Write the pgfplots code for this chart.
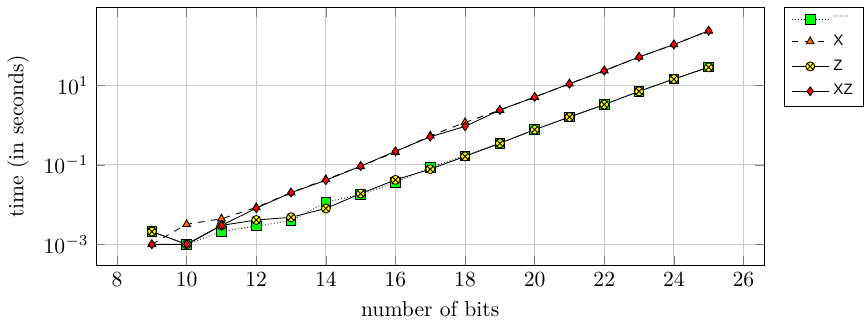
\documentclass[border=0pt]{standalone}
\usepackage{fontspec}
\usepackage{pgfplots}
\pgfplotsset{compat=1.18}
\newfontfamily\legendfont{Liberation Sans}
\begin{document}
\begin{tikzpicture}
\begin{axis}[
  scale only axis,
  width=309pt, height=119pt,
  ymode=log,
  xmin=7.4, xmax=26.6,
  ymin=3e-4, ymax=9e2,
  xtick={8,10,...,26},
  ytick={1e-3,1e-1,1e1},
  grid=major,
  major grid style={gray!40},
  xlabel={number of bits},
  ylabel={time (in seconds)},
  legend style={at={(1.03,1.005)}, anchor=north west,
    font=\legendfont\fontsize{7}{8}\selectfont,
    draw=black, row sep=1.2pt},
  legend cell align=left,
]
% no transformation
\addplot[densely dotted, mark=square*, mark size=2.2pt,
  mark options={solid, fill=green, draw=black}]
  coordinates {(9,0.0021) (10,0.001) (11,0.0021) (12,0.0029) (13,0.0039)
    (14,0.0115) (15,0.018) (16,0.036) (17,0.087) (18,0.17) (19,0.35)
    (20,0.77) (21,1.6) (22,3.3) (23,7.1) (24,14.5) (25,29)};
\addlegendentry{\textcolor{gray!60}{---}}
% X transformation
\addplot[dashed, mark=triangle*, mark size=2.1pt,
  mark options={solid, fill=orange!80!red, draw=black}]
  coordinates {(9,0.001) (10,0.0032) (11,0.0044) (12,0.0085) (13,0.02)
    (14,0.043) (15,0.092) (16,0.21) (17,0.54) (18,1.17) (19,2.4)
    (20,5.1) (21,11) (22,23.5) (23,52) (24,107) (25,237)};
\addlegendentry{X}
% Z transformation
\addplot[solid, mark=otimes*, mark size=2.1pt,
  mark options={fill=yellow, draw=black}]
  coordinates {(9,0.0021) (10,0.001) (11,0.003) (12,0.0041) (13,0.0048)
    (14,0.008) (15,0.019) (16,0.042) (17,0.078) (18,0.164) (19,0.35)
    (20,0.77) (21,1.6) (22,3.3) (23,7.1) (24,14.5) (25,28.5)};
\addlegendentry{Z}
% XZ transformation
\addplot[solid, mark=diamond*, mark size=2pt,
  mark options={fill=red, draw=black}]
  coordinates {(9,0.001) (10,0.001) (11,0.003) (12,0.0081) (13,0.02)
    (14,0.041) (15,0.093) (16,0.22) (17,0.51) (18,0.93) (19,2.4)
    (20,5.1) (21,11) (22,23.5) (23,52) (24,107) (25,237)};
\addlegendentry{XZ}
\end{axis}
% a little room above the frame
\path ([yshift=3.6pt]current axis.north);
\end{tikzpicture}
\end{document}
